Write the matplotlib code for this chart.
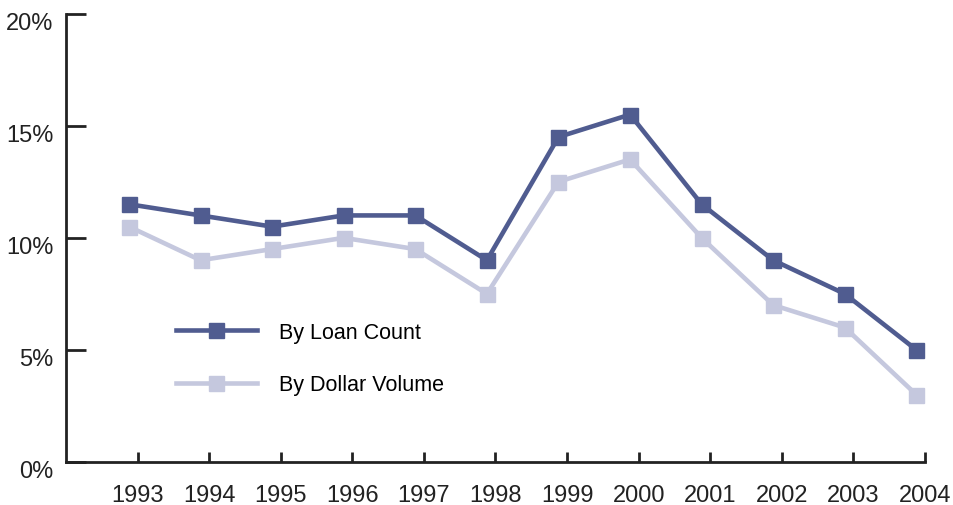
import matplotlib
matplotlib.use("Agg")
import matplotlib.pyplot as plt
import matplotlib.transforms as mtransforms

# datos
anios = ["1993", "1994", "1995", "1996", "1997", "1998",
         "1999", "2000", "2001", "2002", "2003", "2004"]
por_cantidad = [11.5, 11.0, 10.5, 11.0, 11.0, 9.0, 14.5, 15.5, 11.5, 9.0, 7.5, 5.0]
por_volumen = [10.5, 9.0, 9.5, 10.0, 9.5, 7.5, 12.5, 13.5, 10.0, 7.0, 6.0, 3.0]
ticks_y = [0, 5, 10, 15, 20]
etiquetas_y = ["0%", "5%", "10%", "15%", "20%"]

color_oscuro = "#505c90"
color_claro = "#c5c8de"

plt.rcParams["font.family"] = ["Liberation Sans Narrow", "Liberation Sans", "DejaVu Sans"]

fig = plt.figure(figsize=(9.54, 5.06), dpi=100)
ax = fig.add_axes([66 / 954, 43 / 506, (925 - 66) / 954, (463 - 14.7) / 506])

x = [i - 0.12 for i in range(len(anios))]
ax.plot(x, por_volumen, color=color_claro, lw=3.3, marker="s", ms=10.8,
        label="By Dollar Volume", zorder=2)
ax.plot(x, por_cantidad, color=color_oscuro, lw=3.3, marker="s", ms=10.8,
        label="By Loan Count", zorder=3)

ax.set_xlim(-1, len(anios) - 1)
ax.set_ylim(0, 20)
ax.set_xticks(range(len(anios)))
ax.set_xticklabels(anios)
ax.set_yticks(ticks_y)
ax.set_yticklabels(etiquetas_y)

for lado in ["top", "right"]:
    ax.spines[lado].set_visible(False)
for lado in ["left", "bottom"]:
    ax.spines[lado].set_linewidth(2)
    ax.spines[lado].set_color("#222222")

ax.tick_params(axis="y", direction="in", length=14.5, width=2, color="#222222",
               labelsize=17, pad=9, labelcolor="#222222")
ax.tick_params(axis="x", direction="in", length=7, width=2, color="#222222",
               labelsize=17, pad=16, labelcolor="#222222")

# etiquetas del eje y un poco por debajo de la marca
desplazamiento = mtransforms.ScaledTranslation(0, -7 / 100, fig.dpi_scale_trans)
for etiqueta in ax.get_yticklabels():
    etiqueta.set_transform(etiqueta.get_transform() + desplazamiento)

manijas, nombres = ax.get_legend_handles_labels()
ax.legend(manijas[::-1], nombres[::-1], loc="center left",
          bbox_to_anchor=(0.105, 0.231), frameon=False, fontsize=15.5,
          handlelength=3.8, labelspacing=1.45, handletextpad=1.0)

fig.savefig("out.png", dpi=100)
